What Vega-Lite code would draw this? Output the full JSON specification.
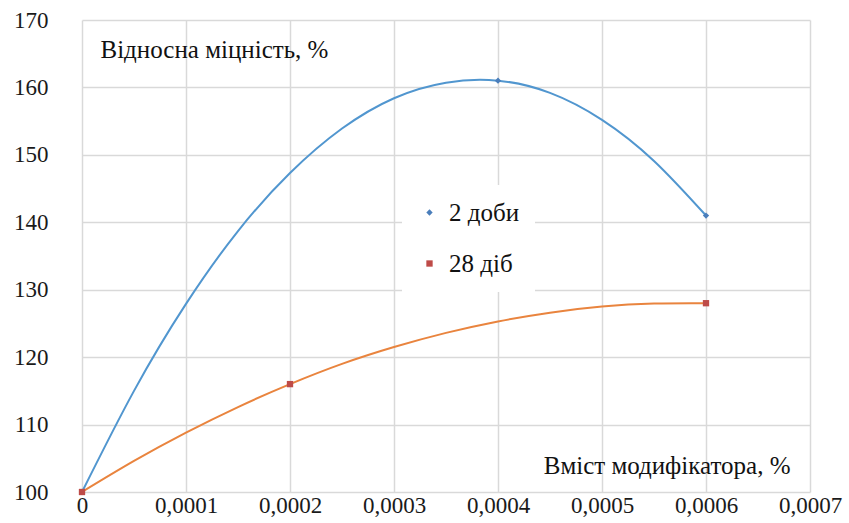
{
  "$schema": "https://vega.github.io/schema/vega-lite/v6.json",
  "width": 728,
  "height": 472,
  "autosize": "none",
  "padding": {"left": 82, "top": 20, "right": 39, "bottom": 31},
  "background": "white",
  "config": {
    "view": {"stroke": null},
    "font": "Liberation Serif",
    "axis": {
      "labelFont": "Liberation Serif",
      "labelFontSize": 23,
      "labelColor": "#1a1a1a",
      "labelFlush": false,
      "labelOverlap": false,
      "titleFont": "Liberation Serif",
      "titleFontSize": 25,
      "titleFontWeight": "normal",
      "titleColor": "#111",
      "gridColor": "#d9d9d9",
      "gridWidth": 1.5,
      "domain": false,
      "ticks": false
    },
    "legend": {
      "labelFont": "Liberation Serif"
    }
  },
  "datasets": {
    "curves": [
      {"x": 0, "y": 100, "series": "2 доби"},
      {"x": 0.00005, "y": 115.0, "series": "2 доби"},
      {"x": 0.0001, "y": 127.9, "series": "2 доби"},
      {"x": 0.00015, "y": 138.7, "series": "2 доби"},
      {"x": 0.0002, "y": 147.3, "series": "2 доби"},
      {"x": 0.00025, "y": 153.9, "series": "2 доби"},
      {"x": 0.0003, "y": 158.4, "series": "2 доби"},
      {"x": 0.00035, "y": 160.7, "series": "2 доби"},
      {"x": 0.0004, "y": 161.0, "series": "2 доби"},
      {"x": 0.00045, "y": 159.2, "series": "2 доби"},
      {"x": 0.0005, "y": 155.2, "series": "2 доби"},
      {"x": 0.00055, "y": 149.1, "series": "2 доби"},
      {"x": 0.0006, "y": 141.0, "series": "2 доби"},
      {"x": 0, "y": 100, "series": "28 діб"},
      {"x": 0.00005, "y": 104.6, "series": "28 діб"},
      {"x": 0.0001, "y": 108.8, "series": "28 діб"},
      {"x": 0.00015, "y": 112.6, "series": "28 діб"},
      {"x": 0.0002, "y": 116.0, "series": "28 діб"},
      {"x": 0.00025, "y": 119.0, "series": "28 діб"},
      {"x": 0.0003, "y": 121.5, "series": "28 діб"},
      {"x": 0.00035, "y": 123.6, "series": "28 діб"},
      {"x": 0.0004, "y": 125.3, "series": "28 діб"},
      {"x": 0.00045, "y": 126.6, "series": "28 діб"},
      {"x": 0.0005, "y": 127.5, "series": "28 діб"},
      {"x": 0.00055, "y": 127.95, "series": "28 діб"},
      {"x": 0.0006, "y": 128.0, "series": "28 діб"}
    ],
    "points": [
      {"x": 0, "y": 100, "series": "2 доби"},
      {"x": 0.0004, "y": 161, "series": "2 доби"},
      {"x": 0.0006, "y": 141, "series": "2 доби"},
      {"x": 0, "y": 100, "series": "28 діб"},
      {"x": 0.0002, "y": 116, "series": "28 діб"},
      {"x": 0.0006, "y": 128, "series": "28 діб"}
    ]
  },
  "encoding": {
    "x": {
      "field": "x",
      "type": "quantitative",
      "scale": {"domain": [0, 0.0007], "nice": false, "zero": false},
      "axis": {
        "values": [0, 0.0001, 0.0002, 0.0003, 0.0004, 0.0005, 0.0006, 0.0007],
        "labelExpr": "replace(format(datum.value, '.4~f'), '.', ',')",
        "labelPadding": 2,
        "title": "Вміст модифікатора, %",
        "titleAlign": "right",
        "titleBaseline": "alphabetic",
        "titleX": 708,
        "titleY": -19
      }
    },
    "y": {
      "field": "y",
      "type": "quantitative",
      "scale": {"domain": [100, 170], "nice": false, "zero": false},
      "axis": {
        "values": [100, 110, 120, 130, 140, 150, 160, 170],
        "labelPadding": 34,
        "title": "Відносна міцність, %",
        "titleAngle": 0,
        "titleAlign": "left",
        "titleBaseline": "alphabetic",
        "titleX": 18,
        "titleY": 37
      }
    }
  },
  "layer": [
    {
      "data": {"name": "curves"},
      "mark": {"type": "line", "interpolate": "natural", "strokeWidth": 2},
      "encoding": {
        "detail": {"field": "series"},
        "color": {
          "condition": {"test": "datum.series === '2 доби'", "value": "#5196cf"},
          "value": "#e9843e"
        }
      }
    },
    {
      "data": {"name": "points"},
      "mark": {"type": "point", "filled": true, "opacity": 1, "size": 40},
      "encoding": {
        "color": {
          "field": "series",
          "type": "nominal",
          "scale": {"domain": ["2 доби", "28 діб"], "range": ["#4a7ebb", "#be4b48"]},
          "legend": {
            "title": null,
            "orient": "none",
            "legendX": 320,
            "legendY": 165,
            "fillColor": "white",
            "padding": 15,
            "rowPadding": 25,
            "labelFont": "Liberation Serif",
            "labelFontSize": 25,
            "labelColor": "#111",
            "labelOffset": 7,
            "symbolSize": 40
          }
        },
        "shape": {
          "field": "series",
          "type": "nominal",
          "scale": {"domain": ["2 доби", "28 діб"], "range": ["diamond", "square"]}
        }
      }
    }
  ]
}
